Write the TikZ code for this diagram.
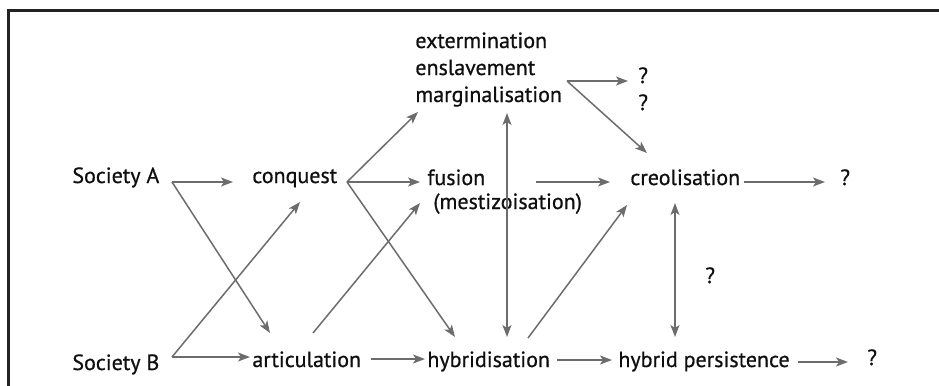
\documentclass[tikz,border=0pt]{standalone}
\usepackage{fontspec}
\setmainfont{PT Sans}
\newfontfamily\lblfont{PT Sans}[FakeBold=0.7]
\usepackage{tikz}
\usetikzlibrary{arrows.meta,calc}

\definecolor{arrgray}{RGB}{108,108,108}
\definecolor{txt}{RGB}{15,15,15}
\definecolor{framegray}{RGB}{35,35,35}

\begin{document}
\begin{tikzpicture}[x=0.5pt,y=-0.5pt,>={Stealth[length=6pt,width=4.5pt,inset=1.5pt]},
  lbl/.style={anchor=base west,inner sep=0pt,font=\lblfont\fontsize{11}{13}\selectfont,text=txt},
  arr/.style={draw=arrgray,line width=0.75pt,->},
  both/.style={draw=arrgray,line width=0.75pt,<->}]

\useasboundingbox (0,0) rectangle (939,386);
\draw [framegray,line width=1.5pt] (939,10) -- (8,10) -- (8,386);

% the two societies and what meets them
\node[lbl] (socA) at (72,183) {Society A};
\node[lbl] (socB) at (72,370) {Society B};
\node[lbl] (conquest) at (252,183) {conquest};
\node[lbl] (artic) at (252,367) {articulation};

\foreach \n/\t/\y in {ext/extermination/48, ensl/enslavement/75, marg/marginalisation/102} {
        \node[lbl] (\n) at (415,\y) {\t};
    }
\node[lbl] (fusion) at (427,185) {fusion};
\node[lbl] (mest) at (433,209) {(mestizoisation)};
\node[lbl] (hybrid) at (427,367) {hybridisation};
\node[lbl] (creol) at (630,185) {creolisation};
\node[lbl] (persist) at (618,367) {hybrid persistence};

\node[lbl] (qa) at (638,83) {?};
\node[lbl] (qb) at (638,110) {?};
\node[lbl] (qc) at (840,185) {?};
\node[lbl] (qd) at (705,283) {?};
\node[lbl] (qe) at (867,365) {?};

\coordinate (forkA) at (172,182);
\coordinate (forkB) at (172,357);
\coordinate (forkC) at (347,182);
\coordinate (forkM) at (567,81);

\draw [arr] (forkA) -- ($(conquest.base west)+(-19,-1)$);
\draw [arr] (forkA) -- ($(artic.base west)+(18,-34)$);
\draw [arr] (forkB) -- ($(artic.base west)+(-2,-10)$);
\draw [arr] (forkB) -- ($(conquest.base west)+(48,19)$);

\draw [arr] (forkC) -- ($(marg.base west)+(3,10)$);
\draw [arr] (forkC) -- ($(fusion.base west)+(-7,-3)$);
\draw [arr] (forkC) -- ($(hybrid.base west)+(28,-30)$);
\draw [arr] ($(artic.base west)+(61,-34)$) -- ($(mest.base west)+(-13,-6)$);
\draw [arr] ($(artic.base east)+(9,-8)$) -- ($(hybrid.base west)+(-2,-8)$);

\draw [arr] (forkM) -- ($(qa.base west)+(-10,-2)$);
\draw [arr] (forkM) -- ($(creol.base west)+(17,-32)$);
\draw [arr] ($(fusion.base east)+(50,-3)$) -- ($(creol.base west)+(-20,-3)$);
\draw [arr] ($(creol.base east)+(3,-3)$) -- ($(qc.base west)+(-15,-3)$);

\draw [both] ($(marg.base west)+(92,11)$) -- ($(hybrid.base west)+(80,-30)$);
\draw [arr] ($(hybrid.base west)+(101,-29)$) -- ($(creol.base west)+(-3,20)$);
\draw [both] ($(creol.base west)+(45,18)$) -- ($(persist.base west)+(57,-30)$);
\draw [arr] ($(hybrid.base east)+(7,-7)$) -- ($(persist.base west)+(-6,-7)$);
\draw [arr] ($(persist.base east)+(8,-5)$) -- ($(qe.base west)+(-19,-3)$);

\end{tikzpicture}
\end{document}
